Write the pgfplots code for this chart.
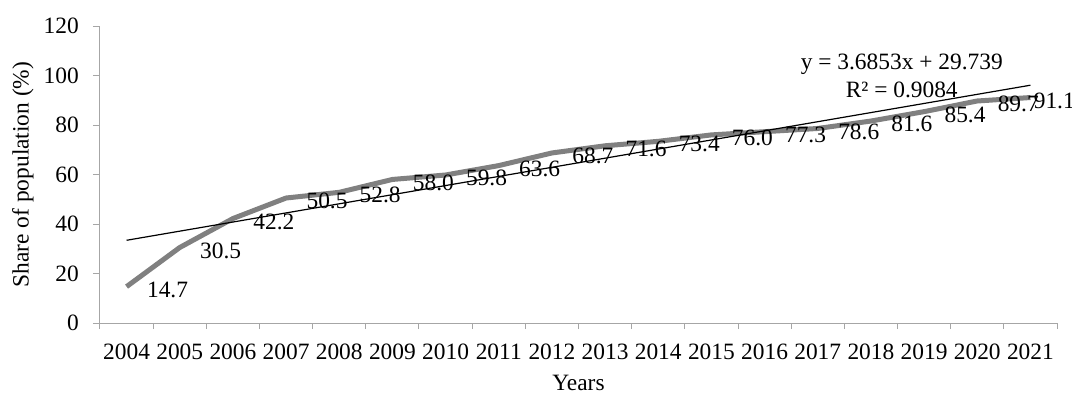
\documentclass[border=0pt]{standalone}
\usepackage{pgfplots}
\pgfplotsset{compat=1.18}
\usepackage{fontspec}
\setmainfont{Liberation Serif}
\pgfplotstableread{
x y lab
1 14.7 14.7
2 30.5 30.5
3 42.2 42.2
4 50.5 50.5
5 52.8 52.8
6 58.0 58.0
7 59.8 59.8
8 63.6 63.6
9 68.7 68.7
10 71.6 71.6
11 73.4 73.4
12 76.0 76.0
13 77.3 77.3
14 78.6 78.6
15 81.6 81.6
16 85.4 85.4
17 89.7 89.7
18 91.1 {}
}\datatable
\newcommand{\ff}{\fontsize{11.7}{14}\selectfont}
\begin{document}
\ff
\begin{tikzpicture}
\begin{axis}[
  scale only axis, width=478.5pt, height=148.5pt,
  xmin=0.5, xmax=18.5, ymin=0, ymax=120,
  axis x line*=bottom, axis y line*=left,
  axis line style={draw=gray!70, line width=0.5pt},
  xtick={1,...,18},
  xticklabels={2004,2005,2006,2007,2008,2009,2010,2011,2012,2013,2014,2015,2016,2017,2018,2019,2020,2021},
  minor xtick={0.5,1.5,...,18.5},
  ytick={0,20,...,120},
  tick align=outside,
  major x tick style={draw=none},
  major tick length=3.5pt, minor tick length=3pt,
  every tick/.style={draw=gray!70, line width=0.5pt},
  tick label style={font=\ff},
  /pgf/number format/assume math mode=true,
  xticklabel style={yshift=-3pt},
  yticklabel style={xshift=-3pt},
  label style={font=\ff},
  xlabel={Years},
  ylabel={Share of population (\%)},
  xlabel style={at={(axis description cs:0.5,0)}, anchor=center, yshift=-30pt},
  ylabel style={at={(axis description cs:-0.0805,0.5)}, anchor=center},
  clip=false,
]
\addplot[color=black!50, line width=2.5pt, line join=round,
  nodes near coords={\pgfplotspointmeta},
  point meta=explicit symbolic,
  nodes near coords style={anchor=west, xshift=8pt, yshift=-1.5pt, font=\ff, text=black, inner sep=1pt}]
  table[x=x, y=y, meta=lab] {\datatable};
\addplot[black, line width=0.6pt] coordinates {(1,33.4243) (18,96.0744)};
\node[anchor=west, xshift=0.5pt, yshift=-1.5pt, font=\ff, inner sep=1pt] at (axis cs:18,91.1) {91.1};
\node[align=center, font=\ff, inner sep=0pt] at (axis cs:15.58,99.8) {y = 3.6853x + 29.739\\R² = 0.9084};
\end{axis}
\pgfresetboundingbox
\path[use as bounding box] (-50pt,-37pt) rectangle (486pt,161.5pt);
\end{tikzpicture}
\end{document}
